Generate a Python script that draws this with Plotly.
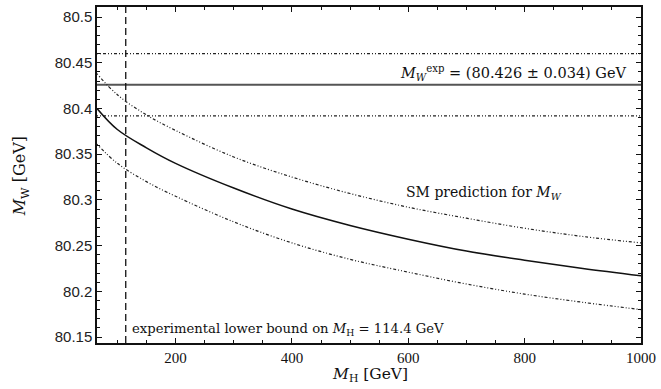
import plotly.graph_objects as go

# Higgs mass grid (GeV) and SM prediction for M_W (GeV)
m_higgs = [65, 100, 150, 200, 300, 400, 500, 600, 700, 800, 900, 1000]
mw_central = [80.400, 80.377, 80.357, 80.340, 80.313, 80.290, 80.272, 80.257, 80.244, 80.234, 80.225, 80.217]
mw_upper = [80.438, 80.415, 80.393, 80.376, 80.347, 80.325, 80.307, 80.292, 80.280, 80.269, 80.260, 80.253]
mw_lower = [80.361, 80.340, 80.320, 80.304, 80.276, 80.253, 80.235, 80.221, 80.208, 80.197, 80.188, 80.180]

mw_exp = 80.426
mw_exp_err = 0.034
mh_bound = 114.4

x_range = [65, 1000]
y_range = [80.1435, 80.511]
x_ticks = [200, 400, 600, 800, 1000]
y_ticks = [80.15, 80.2, 80.25, 80.3, 80.35, 80.4, 80.45, 80.5]
y_tick_text = ["80.15", "80.2", "80.25", "80.3", "80.35", "80.4", "80.45", "80.5"]

dotted = "1px,2px,1px,2px,3px,2px"
fig = go.Figure()

# experimental band
fig.add_trace(go.Scatter(x=x_range, y=[mw_exp, mw_exp], mode="lines",
                         line=dict(color="#555555", width=2), showlegend=False))
for yv in [mw_exp + mw_exp_err, mw_exp - mw_exp_err]:
    fig.add_trace(go.Scatter(x=x_range, y=[yv, yv], mode="lines",
                             line=dict(color="#222222", width=1.2, dash=dotted),
                             showlegend=False))

# SM prediction
fig.add_trace(go.Scatter(x=m_higgs, y=mw_upper, mode="lines",
                         line=dict(color="#222222", width=1.2, dash=dotted, shape="spline"),
                         showlegend=False))
fig.add_trace(go.Scatter(x=m_higgs, y=mw_lower, mode="lines",
                         line=dict(color="#222222", width=1.2, dash=dotted, shape="spline"),
                         showlegend=False))
fig.add_trace(go.Scatter(x=m_higgs, y=mw_central, mode="lines",
                         line=dict(color="#111111", width=1.5, shape="spline"),
                         showlegend=False))

# lower bound on M_H
fig.add_trace(go.Scatter(x=[mh_bound, mh_bound], y=y_range, mode="lines",
                         line=dict(color="#111111", width=1.3, dash="7px,4px"),
                         showlegend=False))

serif = "DejaVu Serif, Liberation Serif, serif"
fig.add_annotation(x=980, y=mw_exp, xanchor="right", yanchor="bottom", showarrow=False,
                   text="<i>M</i><sub><i>W</i></sub><sup>exp</sup> = (80.426 ± 0.034) GeV",
                   font=dict(family=serif, size=14.5, color="#111"))
fig.add_annotation(x=730, y=80.308, xanchor="center", yanchor="middle", showarrow=False,
                   text="SM prediction for <i>M</i><sub><i>W</i></sub>",
                   font=dict(family=serif, size=14, color="#111"))
fig.add_annotation(x=122, y=80.158, xanchor="left", yanchor="middle", showarrow=False,
                   text="experimental lower bound on <i>M</i><sub>H</sub> = 114.4 GeV",
                   font=dict(family=serif, size=13.2, color="#111"))

# axis titles
fig.add_annotation(xref="paper", yref="paper", x=0.501, y=-0.095, xanchor="center", yanchor="middle",
                   showarrow=False, text="<i>M</i><sub>H</sub> [GeV]",
                   font=dict(family=serif, size=15.5, color="#111"))
fig.add_annotation(xref="paper", yref="paper", x=-0.141, y=0.497, xanchor="center", yanchor="middle",
                   showarrow=False, textangle=-90, text="<i>M</i><sub>W</sub> [GeV]",
                   font=dict(family=serif, size=16, color="#111"))

fig.update_xaxes(range=x_range, tickvals=x_ticks, ticks="inside", ticklen=5, tickcolor="#111",
                 showline=True, linecolor="#111", linewidth=1.5, mirror="allticks",
                 showgrid=False, zeroline=False,
                 minor=dict(dtick=50, tick0=0, ticks="inside", ticklen=3, tickcolor="#111"),
                 tickfont=dict(family="Liberation Serif, serif", size=15, color="#111"))
fig.update_yaxes(range=y_range, tickvals=y_ticks, ticktext=y_tick_text, ticks="inside", ticklen=5,
                 tickcolor="#111", showline=True, linecolor="#111", linewidth=1.5, mirror="allticks",
                 showgrid=False, zeroline=False,
                 minor=dict(dtick=0.01, tick0=80.0, ticks="inside", ticklen=3, tickcolor="#111"),
                 tickfont=dict(family="Liberation Sans, Arial, sans-serif", size=15, color="#222"))

fig.update_layout(width=661, height=389, plot_bgcolor="white", paper_bgcolor="white",
                  margin=dict(l=97, r=19, t=5, b=46), showlegend=False)

fig.write_html("out.html", config={"displayModeBar": False},
               post_script="document.body.style.margin='0';document.body.style.overflow='hidden';")
